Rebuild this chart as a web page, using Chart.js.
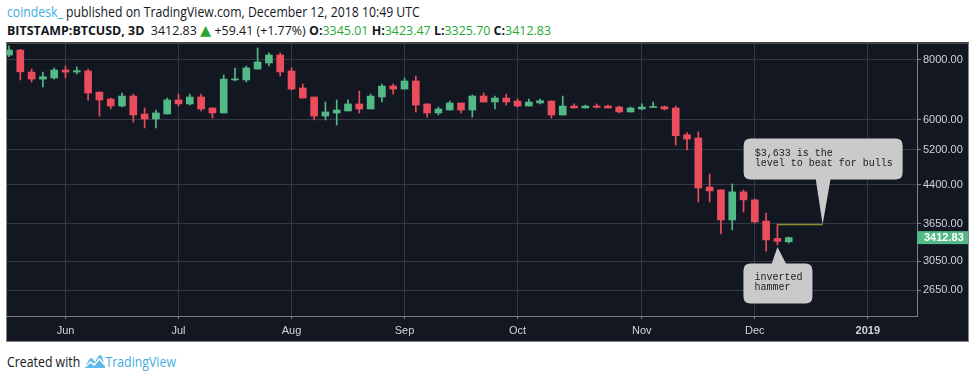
<!DOCTYPE html>
<html>
<head>
<meta charset="utf-8">
<script src="https://cdn.jsdelivr.net/npm/chart.js@4.4.0/dist/chart.umd.min.js"></script>
<style>
  html, body { margin:0; padding:0; background:#ffffff; width:975px; height:379px; overflow:hidden; }
  .txt { position:absolute; left:7px; white-space:nowrap; transform-origin:0 0; font-family:"Open Sans","Noto Sans",sans-serif; color:#131722; line-height:1; }
  #line1 { top:4.6px; font-size:14px; }
  #line2 { top:24px; font-size:12px; height:13px; }
  #footer { top:354px; font-size:14px; display:flex; align-items:center; }
  .b { font-weight:bold; }
  .g { color:#26a833; }
  .tri { color:#26a833; font-size:14px; line-height:12px; font-family:"DejaVu Sans",sans-serif; }
  .blue { color:#41ade2; }
  #frame { position:absolute; left:6px; top:42px; width:961px; height:297px; background:#131722;
           border:1px solid #858585; border-top:2px solid #454545; }
  #c { display:block; }
</style>
</head>
<body>
<div id="line1" class="txt" data-w="413"><span class="blue">coindesk_</span> published on TradingView.com, December 12, 2018 10:49 UTC</div>
<div id="line2" class="txt" data-w="544"><span class="b">BITSTAMP:BTCUSD, 3D</span>&nbsp; 3412.83 <span class="tri">▲</span> +59.41 (+1.77%) <span class="b">O:</span><span class="g">3345.01</span> <span class="b">H:</span><span class="g">3423.47</span> <span class="b">L:</span><span class="g">3325.70</span> <span class="b">C:</span><span class="g">3412.83</span></div>
<div id="frame"><canvas id="c" width="961" height="297"></canvas></div>
<div id="footer" class="txt" data-w="169"><span>Created with&nbsp;</span><svg width="25" height="15" viewBox="0 0 25 15"><path d="M1 14 L6 6 Q8 3 10.5 5 L13 8 L17 2 Q19 0 21 2.5 L24.5 14 Z" fill="#5cb9e9"/><polyline points="2,13 8,8 12,11 18,5 24,11" fill="none" stroke="#ffffff" stroke-width="1.6"/></svg><span class="blue">TradingView</span></div>
<script>
// ---- data (3-day BTCUSD candles, Bitstamp, from 17 May 2018) ----
const opens  = [8190,8390,7550,7300,7340,7625,7550,7590,6860,6635,6415,6730,6175,6030,6175,6605,6480,6700,6355,6205,7270,7270,7660,7885,8195,7590,6995,6700,6115,6205,6265,6480,6325,6700,7060,6960,7235,6480,6205,6295,6510,6295,6730,6540,6665,6570,6415,6510,6570,6145,6415,6355,6415,6415,6385,6235,6325,6370,6395,6355,5590,5505,4350,4290,3715,4250,4090,3695,3400,3345.01];
const highs  = [8560,8420,7660,7550,7700,7770,7735,7660,6860,6665,6830,6795,6355,6295,6665,6795,6795,6795,6355,7445,7700,7770,8475,8275,8275,7700,7130,6700,6540,6605,6605,6895,6795,7130,7130,7340,7410,6480,6385,6570,6510,6765,6830,6730,6795,6635,6635,6635,6570,6730,6480,6445,6480,6445,6415,6385,6480,6540,6415,6415,5645,5665,4630,4290,4415,4290,4105,3840,3633,3423.47];
const lows   = [8130,7270,7200,7030,7300,7340,7480,6600,6115,6325,6385,5940,5775,5775,6175,6415,6445,6265,6055,6205,7235,7200,7660,7775,7410,6930,6665,6000,6000,5855,6265,6205,6325,6540,6795,6960,6235,6085,6145,6295,6205,6085,6540,6325,6445,6385,6415,6480,6055,6145,6355,6355,6355,6355,6205,6235,6295,6370,6295,5320,5195,4050,4050,3475,3540,3860,3660,3200,3295,3325.70];
const closes = [8390,7560,7300,7385,7625,7550,7600,6830,6605,6415,6730,6145,6030,6205,6605,6480,6700,6325,6205,7300,7300,7700,7925,8195,7555,6960,6665,6115,6235,6295,6480,6325,6730,7060,6960,7235,6445,6205,6325,6510,6295,6730,6540,6665,6540,6415,6540,6580,6145,6415,6355,6415,6375,6355,6235,6355,6385,6395,6325,5565,5475,4330,4270,3715,4250,4090,3680,3375,3353,3412.83];

const monthLabels = ['Jun','Jul','Aug','Sep','Oct','Nov','Dec','2019'];
const monthBars   = [5,15,25,35,45,56,66,76];
const priceTicks  = [2650,3050,3650,4400,5200,6000,8000];

const lastPrice   = 3412.83;
const levelPrice  = 3633;
const hammerBar   = 68;
const levelEndBar = 72;
const levelNote   = ['$3,633 is the', 'level to beat for bulls'];
const hammerNote  = ['inverted', 'hammer'];

// ---- styling ----
const UP = '#53b987', DOWN = '#eb4d5c';
const GRID = '#353945', AXIS = '#7b7e87', LABEL = '#d1d4dc';
const candleColors = opens.map((o,i) => closes[i] >= o ? UP : DOWN);

// fit header/footer text widths
document.querySelectorAll('.txt').forEach(el => {
  const w = el.scrollWidth, target = +el.dataset.w;
  el.style.transform = 'scaleX(' + (target / w) + ')';
});

function roundRect(ctx, x, y, w, h, r) {
  ctx.beginPath();
  ctx.moveTo(x + r, y);
  ctx.lineTo(x + w - r, y); ctx.quadraticCurveTo(x + w, y, x + w, y + r);
  ctx.lineTo(x + w, y + h - r); ctx.quadraticCurveTo(x + w, y + h, x + w - r, y + h);
  ctx.lineTo(x + r, y + h); ctx.quadraticCurveTo(x, y + h, x, y + h - r);
  ctx.lineTo(x, y + r); ctx.quadraticCurveTo(x, y, x + r, y);
  ctx.closePath();
}
function callout(ctx, o) {
  ctx.fillStyle = '#cacaca';
  roundRect(ctx, o.left, o.top, o.w, o.h, 7);
  ctx.fill();
  const by = o.side === 'bottom' ? o.top + o.h - 1 : o.top + 1;
  ctx.beginPath();
  ctx.moveTo(o.baseL, by); ctx.lineTo(o.tipX, o.tipY); ctx.lineTo(o.baseR, by); ctx.closePath();
  ctx.fill();
  ctx.fillStyle = '#1c1c1c';
  ctx.font = '10px "Liberation Mono", "Courier New", monospace';
  ctx.textBaseline = 'middle';
  ctx.textAlign = 'left';
  o.lines.forEach((t, k) => ctx.fillText(t, o.left + 11, o.top + o.firstY + k * 10));
}

const overlay = {
  id: 'overlay',
  afterDraw(chart) {
    const { ctx, scales: { x, y }, chartArea } = chart;
    ctx.save();
    // resistance level line
    const lx0 = x.getPixelForValue(hammerBar), lx1 = x.getPixelForValue(levelEndBar);
    const ly = y.getPixelForValue(levelPrice);
    ctx.strokeStyle = '#8e8d33'; ctx.lineWidth = 1.5;
    ctx.beginPath(); ctx.moveTo(lx0, ly); ctx.lineTo(lx1, ly); ctx.stroke();
    callout(ctx, { tipX: lx1, tipY: ly, left: lx1 - 79, top: ly - 86, w: 159, h: 41,
                   baseL: lx1 - 7, baseR: lx1 + 8, side: 'bottom', lines: levelNote, firstY: 14.3 });
    // inverted hammer note
    const hx = x.getPixelForValue(hammerBar), hy = y.getPixelForValue(lows[hammerBar]) + 2;
    callout(ctx, { tipX: hx, tipY: hy, left: hx - 34, top: hy + 16.6, w: 69, h: 40,
                   baseL: hx - 6, baseR: hx + 9, side: 'top', lines: hammerNote, firstY: 13.7 });
    // last price badge
    const py = y.getPixelForValue(lastPrice);
    ctx.fillStyle = UP;
    ctx.fillRect(chartArea.right, py - 6.5, chart.width - chartArea.right, 13);
    ctx.fillStyle = '#ffffff';
    ctx.font = 'bold 11px "Liberation Sans", Arial, sans-serif';
    ctx.textBaseline = 'middle'; ctx.textAlign = 'left';
    ctx.fillText(lastPrice.toFixed(2), chartArea.right + 7, py + 0.5);
    ctx.restore();
  }
};

new Chart(document.getElementById('c'), {
  type: 'bar',
  data: {
    datasets: [
      { label: 'body', data: opens.map((o,i) => ({ x: i, y: [o, closes[i]] })),
        backgroundColor: candleColors, barThickness: 7, minBarLength: 1, grouped: false, order: 0 },
      { label: 'wick', data: opens.map((o,i) => ({ x: i, y: [lows[i], highs[i]] })),
        backgroundColor: candleColors, barThickness: 1, grouped: false, order: 1 }
    ]
  },
  options: {
    responsive: false,
    animation: false,
    events: [],
    devicePixelRatio: 1,
    layout: { padding: 0 },
    plugins: { legend: { display: false }, tooltip: { enabled: false } },
    scales: {
      x: {
        type: 'linear', min: -0.177, max: 80.35, offset: false,
        grid: { color: GRID, tickColor: AXIS, tickLength: 3, offset: false },
        border: { color: AXIS, width: 1 },
        afterBuildTicks: s => { s.ticks = monthBars.map(v => ({ value: v })); },
        afterFit: s => { s.height = 25; s.paddingLeft = 0; s.paddingRight = 0; },
        ticks: {
          autoSkip: false, maxRotation: 0, padding: 5, color: LABEL,
          callback: (v, i) => monthLabels[i],
          font: ctx => ({ family: '"Liberation Sans", Arial, sans-serif', size: 11,
                          weight: monthLabels[ctx.index] === '2019' ? 'bold' : 'normal' })
        }
      },
      y: {
        type: 'logarithmic', position: 'right', min: 2343.5, max: 8638,
        grid: { color: GRID, tickColor: AXIS, tickLength: 4 },
        border: { color: AXIS, width: 1 },
        afterBuildTicks: s => { s.ticks = priceTicks.map(v => ({ value: v })); },
        afterFit: s => { s.width = 51; s.paddingTop = 0; s.paddingBottom = 0; },
        ticks: {
          padding: 2, color: LABEL,
          font: { family: '"Liberation Sans", Arial, sans-serif', size: 11 },
          callback: v => Number(v).toFixed(2)
        }
      }
    }
  },
  plugins: [overlay]
});
</script>
</body>
</html>
